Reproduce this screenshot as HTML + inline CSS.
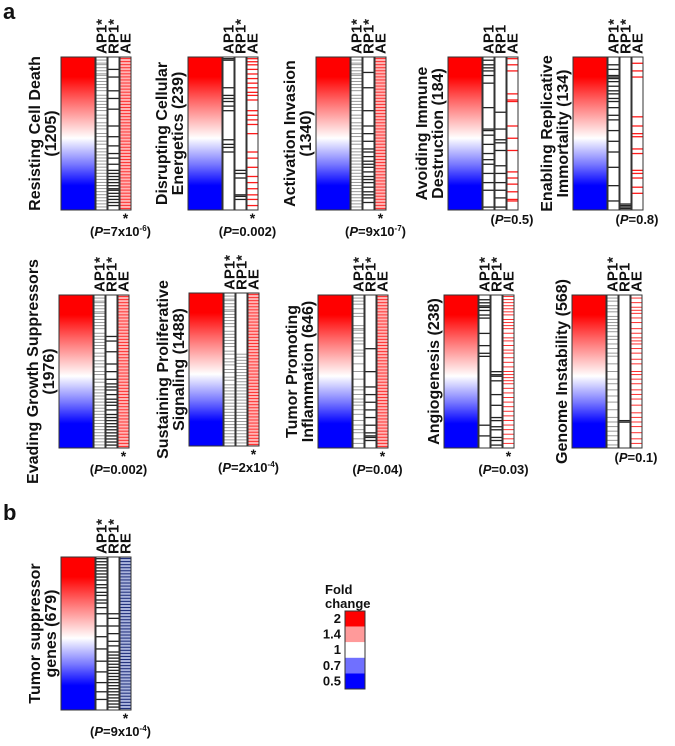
<!DOCTYPE html>
<html><head><meta charset="utf-8"><style>
body{margin:0;background:#fff}
svg text{font-family:"Liberation Sans",sans-serif;font-weight:bold;fill:#111}
</style></head><body>
<svg id="fig" width="675" height="741" viewBox="0 0 675 741" xmlns="http://www.w3.org/2000/svg">
<defs>
<linearGradient id="fc" x1="0" y1="0" x2="0" y2="1">
<stop offset="0" stop-color="#ff0000"/><stop offset="0.13" stop-color="#ff0000"/>
<stop offset="0.3" stop-color="#ff7070"/><stop offset="0.53" stop-color="#ffffff"/>
<stop offset="0.7" stop-color="#7a7aff"/><stop offset="0.84" stop-color="#0000ff"/><stop offset="1" stop-color="#0000ff"/>
</linearGradient>
</defs>
<text x="3" y="19" font-size="22">a</text>
<text x="3" y="520" font-size="22">b</text>
</svg>
<script>
const DG=[2,4,5,7,9,11,12,14,16,18,20,22,25,27,29,31,33,35,38,40,43,45,47,50,52,55,57,60,62,64,66,68,70,72,74,76,78,80,82,84,86,88,90,92,94,96,98];
const DR=[1,3,5,7,9,11,13,15,17,19,21,23,25,27,29,31,33,35,37,39,41,43,45,47,49,51,53,55,57,59,61,63,65,67,69,71,73,75,77,79,81,83,85,87,89,91,93,95,97,99];
const titles=[["Resisting Cell Death","(1205)"],["Disrupting Cellular","Energetics (239)"],["Activation Invasion","(1340)"],["Avoiding Immune","Destruction (184)"],["Enabling Replicative","Immortality (134)"],
["Evading Growth Suppressors","(1976)"],["Sustaining Proliferative","Signaling (1488)"],["Tumor Promoting","Inflammation (646)"],["Angiogenesis (238)"],["Genome Instability (568)"],
["Tumor suppressor","genes (679)"]];
const stripLabels=[["AP1*","RP1*","AE"],["AP1","RP1*","AE"],["AP1*","RP1*","AE"],["AP1","RP1","AE"],["AP1*","RP1*","AE"],
["AP1*","RP1*","AE"],["AP1*","RP1*","AE"],["AP1*","RP1*","AE"],["AP1*","RP1*","AE"],["AP1*","RP1","AE"],["AP1*","RP1*","RE"]];
const pMant=["7x10","0.002","9x10","0.5","0.8","0.002","2x10","0.04","0.03","0.1","9x10"];
const pExp=["-6","","-7","","","","-4","","","","-4"];
const pSig=[1,1,1,0,0,1,1,1,1,0,1];
const ap1=[DG,[1,2,20,25,27,29,32,35,54,57,59,62],DG,[2,5,7,9,12,17,33,47,48,51,57,63,67,70,76,82,87,98],[5,8,12,13,14,16,19,22,24,27,29,33,38,41,48,55,62,72,84,94],
DG,DG,[2,4,6,9,12,14,20,22,23,25,28,30,32,36,38,40,45,50,55,60,62,65,68,70,72,75,78,82,85,88,90,94,97],[3,5,7,8,10,13,15,25,33,38,40,85,92],
[2,4,7,9,11,14,16,18,20,22,24,27,29,32,35,38,40,45,50,55,58,62,66,70,75,80,83,86,89,92,95,98],
[1,3,5,7,9,11,13,15,18,20,23,25,28,30,33,37,45,52,60,68,75,82,88,93]];
const rp1=[[8,13,22,27,34,45,52,58,63,66,70,74,76,78,80,82,84,86,87,89,91,93,95,97],[74,76,79,90,91,93],[10,20,35,45,50,55,60,62,65,68,70,72,75,78,80,82,85,88,90,92,95],
[36,47,54,56,61,71,76,82,87,92,98],[96,97,98,99],
[27,30,37,45,50,55,58,60,62,65,68,70,72,75,78,80,82,84,86,88,90,92,94,96,98],
[40,42,44,46,48,50,52,54,56,58,60,62,64,66,68,70,72,74,76,78,80,82,84,86,88,90,92,94,96,98],
[35,50,60,65,70,75,80,85,90,92,93,95],[50,52,53,56,65,72,80,82,86,88,93,95,98],[82,83],
[37,40,45,50,55,58,62,64,66,68,70,72,74,76,78,80,82,84,86,88,90,92,94,96,98]];
const ae=[DR,[1,3,5,8,11,14,17,20,23,25,28,35,38,41,44,50,62,66,72,78,82,86,90,93,97],DR,[1,5,9,24,28,29,45,53,61,75,79,83,88,93,94],[4,9,13,39,45,50,52,60,63,74,76,79,85,89],
DR,DR,DR,[1,3,5,7,9,11,13,16,18,20,22,25,28,30,33,36,38,41,44,47,50,52,54,56,58,61,64,67,70,73,76,79,82,85,88,91,94,97],
[2,5,8,10,12,15,18,22,25,28,30,32,35,38,42,45,50,52,55,58,62,65,68,72,77,80,83,86,90,94,97],DR];
const legendLabels=["2","1.4","1","0.7","0.5"];
const legendColors=["#ff0000","#ff9a9a","#ffffff","#7070ff","#0000ff"];

const pos=[[61,57],[188,57],[316,57],[448,57],[573,57],[59,295],[189,293],[318,295],[444,295],[572,295],[61,557]];
const svg=document.getElementById('fig');const NS="http://www.w3.org/2000/svg";
function mk(t,a,p){const e=document.createElementNS(NS,t);for(const k in a)e.setAttribute(k,a[k]);(p||svg).appendChild(e);return e;}
const H=153,GW=34,SW=11;
pos.forEach((p,i)=>{
 const g=mk('g',{});
 
 
 const [x,y]=p;
 const gr=mk('rect',{x:x,y:y,width:GW,height:H,fill:'url(#fc)',stroke:'#333','stroke-width':1},g);
 
 
 const tl=titles[i];const cy=y+H/2;
 tl.forEach((t,j)=>{
  const lx=tl.length==2?(j==0?x-21:x-5):x-5;
  const te=mk('text',{x:lx,y:cy,'font-size':16,'text-anchor':'middle',transform:`rotate(-90 ${lx} ${cy})`},g);
  te.textContent=t;
  
  
 });
 const isB=i==10;
 [ap1[i],rp1[i],ae[i]].forEach((arr,k)=>{
  const sx=x+GW+1+k*12;
  let bg='#fff';
  if(k==2&&arr===DR)bg='#ffb4b4';
  if(k==2&&isB)bg='#aab4dc';
  const sr=mk('rect',{x:sx,y:y,width:SW,height:H,fill:bg},g);
  
  
  const dense=arr.length>28;
  let col=k==2?(isB?'#1a2a78':(dense?'#ff3030':'#ff1a1a')):(dense?'#999':'#222');
  arr.forEach(v=>{
   const ln=mk('rect',{x:sx,y:y+v/100*H-0.5,width:SW,height:dense?1:1.3,fill:col},g);
   
   
  });
  mk('rect',{x:sx,y:y,width:SW,height:H,fill:'none',stroke:'#333','stroke-width':1},g);
  const lx=sx+SW/2+5,ly=y-3;
  const lt=mk('text',{x:lx,y:ly,'font-size':15,transform:`rotate(-90 ${lx} ${ly})`},g);
  lt.textContent=stripLabels[i][k];
  
  
 });
 const aex=x+GW+1+24+SW/2;
 if(pSig[i]){
  const st=mk('text',{x:aex,y:y+H+13,'font-size':14,'text-anchor':'middle'},g);st.textContent='*';
  
  
 }
 const py=pSig[i]?y+H+26:y+H+14;
 const pt=mk('text',{x:pSig[i]?aex-5:x+GW+30,y:py,'font-size':13,'text-anchor':'middle'},g);
 
 
 pt.innerHTML='(<tspan font-style="italic">P</tspan>='+pMant[i]+(pExp[i]?'<tspan font-size="8" dy="-5">'+pExp[i]+'</tspan><tspan dy="5">)</tspan>':')');
});
const lg=mk('g',{});


const t1=mk('text',{x:325,y:594,'font-size':13},lg);t1.textContent='Fold';
const t2=mk('text',{x:325,y:608,'font-size':13},lg);t2.textContent='change';
legendLabels.forEach((l,j)=>{
 const r=mk('rect',{x:345,y:611+j*15.6,width:20,height:15.6,fill:legendColors[j]},lg);
 
 
 const t=mk('text',{x:341,y:623+j*15.6,'font-size':13,'text-anchor':'end'},lg);t.textContent=l;
 
 
});
mk('rect',{x:345,y:611,width:20,height:78,fill:'none',stroke:'#333','stroke-width':1},lg);
</script>
</body></html>
